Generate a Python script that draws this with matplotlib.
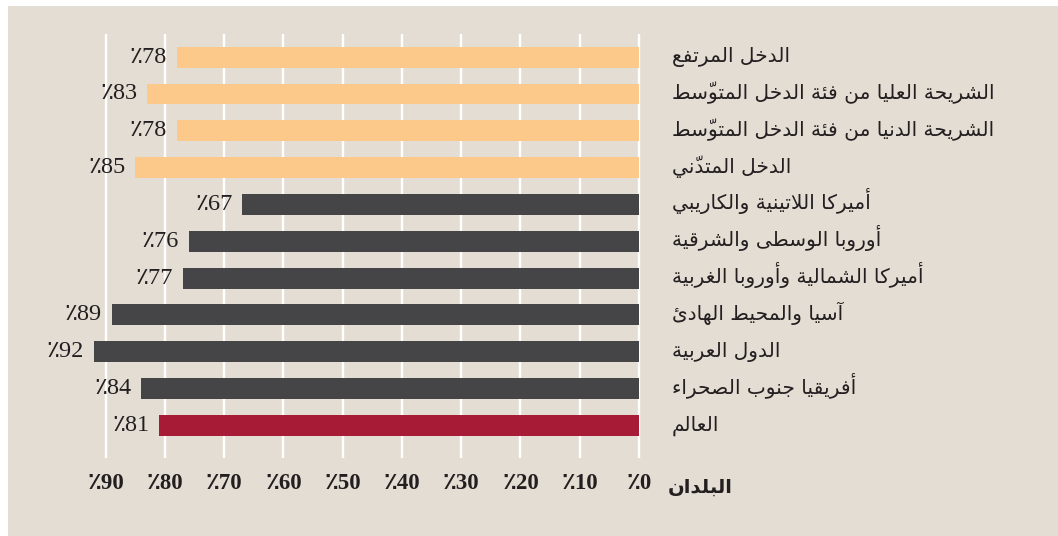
import matplotlib
matplotlib.use("Agg")
import matplotlib.pyplot as plt
from matplotlib.patches import Rectangle

# ---------------- data ----------------
categories = [
    "الدخل المرتفع",
    "الشريحة العليا من فئة الدخل المتوسّط",
    "الشريحة الدنيا من فئة الدخل المتوسّط",
    "الدخل المتدنّي",
    "أميركا اللاتينية والكاريبي",
    "أوروبا الوسطى والشرقية",
    "أميركا الشمالية وأوروبا الغربية",
    "آسيا والمحيط الهادئ",
    "الدول العربية",
    "أفريقيا جنوب الصحراء",
    "العالم",
]
values = [78, 83, 78, 85, 67, 76, 77, 89, 92, 84, 81]
groups = ["income"] * 4 + ["region"] * 6 + ["world"]
xticks = [0, 10, 20, 30, 40, 50, 60, 70, 80, 90]
axis_title = "البلدان"

group_colors = {"income": "#fdc98a", "region": "#454547", "world": "#a81b37"}
BG = "#e4ddd4"
TXT = "#231f20"

# ---------------- minimal Arabic shaping ----------------
DUAL = {  # 4-form letters: base presentation code (isolated)
    0x0626: 0xFE89, 0x0628: 0xFE8F, 0x062A: 0xFE95, 0x062B: 0xFE99,
    0x062C: 0xFE9D, 0x062D: 0xFEA1, 0x062E: 0xFEA5, 0x0633: 0xFEB1,
    0x0634: 0xFEB5, 0x0635: 0xFEB9, 0x0636: 0xFEBD, 0x0637: 0xFEC1,
    0x0638: 0xFEC5, 0x0639: 0xFEC9, 0x063A: 0xFECD, 0x0641: 0xFED1,
    0x0642: 0xFED5, 0x0643: 0xFED9, 0x0644: 0xFEDD, 0x0645: 0xFEE1,
    0x0646: 0xFEE5, 0x0647: 0xFEE9, 0x064A: 0xFEF1,
}
RIGHT = {  # 2-form letters
    0x0622: 0xFE81, 0x0623: 0xFE83, 0x0624: 0xFE85, 0x0625: 0xFE87,
    0x0627: 0xFE8D, 0x0629: 0xFE93, 0x062F: 0xFEA9, 0x0630: 0xFEAB,
    0x0631: 0xFEAD, 0x0632: 0xFEAF, 0x0648: 0xFEED, 0x0649: 0xFEEF,
}
NONJOIN = {0x0621: 0xFE80}
LAMALEF = {0x0622: 0xFEF5, 0x0623: 0xFEF7, 0x0625: 0xFEF9, 0x0627: 0xFEFB}


def is_mark(ch):
    return 0x064B <= ord(ch) <= 0x0652


def joining(ch):
    return ch is not None and (ord(ch) in DUAL or ord(ch) in RIGHT)


def shape(text):
    clusters = []
    for ch in text:
        if is_mark(ch) and clusters:
            clusters[-1][1].append(ch)
        else:
            clusters.append([ch, []])
    out = []
    n = len(clusters)
    i = 0
    while i < n:
        ch, marks = clusters[i]
        c = ord(ch)
        prev = clusters[i - 1][0] if i > 0 else None
        nxt = clusters[i + 1][0] if i + 1 < n else None
        cp = prev is not None and ord(prev) in DUAL and joining(ch)
        if c == 0x0644 and nxt is not None and ord(nxt) in LAMALEF:
            g = LAMALEF[ord(nxt)] + (1 if cp else 0)
            out.append([chr(g), marks + clusters[i + 1][1]])
            i += 2
            continue
        if c in DUAL:
            cn = joining(nxt)
            off = 3 if (cp and cn) else 1 if cp else 2 if cn else 0
            out.append([chr(DUAL[c] + off), marks])
        elif c in RIGHT:
            out.append([chr(RIGHT[c] + (1 if cp else 0)), marks])
        elif c in NONJOIN:
            out.append([chr(NONJOIN[c]), marks])
        else:
            out.append([ch, marks])
        i += 1
    return "".join(b + "".join(m) for b, m in reversed(out))


# ---------------- figure ----------------
W, H, DPI = 1058, 536, 100
fig = plt.figure(figsize=(W / DPI, H / DPI), dpi=DPI)
fig.patch.set_facecolor("white")
fig.patches.append(Rectangle((8 / W, 0), 1 - 8 / W, 1 - 6 / H,
                             transform=fig.transFigure, facecolor=BG,
                             edgecolor="none", zorder=-5))

ppu = 5.925  # pixels per percentage unit
x0 = 639.0
xl, xr = 95, -1
ax_left = (x0 - xl * ppu) / W
ax_right = (x0 - xr * ppu) / W
ytop, ybot = 34, 458
ax = fig.add_axes([ax_left, 1 - ybot / H, ax_right - ax_left, (ybot - ytop) / H])
ax.set_zorder(2)
ax.set_facecolor("none")
ax.set_xlim(xl, xr)
n = len(categories)
ax.set_ylim(n - 1 + 0.89, -0.63)

ypos = list(range(n))
colors = [group_colors[g] for g in groups]
ax.barh(ypos, values, height=0.57, color=colors, zorder=3)

ax.set_xticks(xticks)
ax.set_xticklabels(["٪" + str(t) for t in xticks],
                   fontdict=dict(family=["Liberation Serif", "DejaVu Sans"],
                                 weight="bold", size=16.5, color=TXT))
ax.tick_params(axis="x", length=0, pad=11)
ax.set_yticks([])
ax.grid(axis="x", color="white", linewidth=1.7, zorder=1)
ax.set_axisbelow(True)
for s in ax.spines.values():
    s.set_visible(False)

for y, v in zip(ypos, values):
    ax.annotate("٪" + str(v), xy=(v, y), xytext=(-7, 0), textcoords="offset points",
                ha="right", va="center", fontsize=17.5, color=TXT,
                family=["Liberation Serif", "DejaVu Sans"])

label_x = 672 / W
for y, lab in zip(ypos, categories):
    fy = 1 - (57.2 + y * 36.81 + 5) / H
    fig.text(label_x, fy, shape(lab), ha="left", va="baseline", fontsize=14.5,
             color=TXT, family=["DejaVu Sans"])

fig.text(668 / W, 1 - 493 / H, shape(axis_title), ha="left", va="baseline",
         fontsize=14, color=TXT, weight="bold", family=["DejaVu Sans"])

fig.savefig("out.png", dpi=DPI, facecolor=fig.get_facecolor())
